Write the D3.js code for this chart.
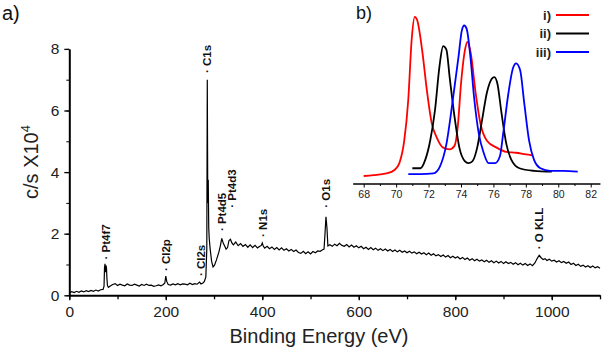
<!DOCTYPE html>
<html>
<head>
<meta charset="utf-8">
<script src="https://cdn.jsdelivr.net/npm/d3@7"></script>
<style>
  body { margin: 0; background: #fff; }
  text { font-family: "Liberation Sans", Arial, sans-serif; }
</style>
</head>
<body>
<script>
var w = 604;
var h = 355;

// survey spectrum: [binding energy (eV), counts (x10^4 c/s)]
var survey = [
  [0,0.08],[5,0.12],[10,0.09],[15,0.13],[20,0.10],[25,0.14],[30,0.11],[35,0.15],[40,0.12],[45,0.16],
  [50,0.13],[55,0.17],[60,0.14],[65,0.18],[70,0.19],[72,0.30],[73,0.90],[74,1.02],[75,0.75],[76,0.97],
  [77,0.90],[78,0.55],[79,0.32],[81,0.26],[85,0.30],[90,0.35],[95,0.38],[100,0.32],[105,0.36],[110,0.33],
  [115,0.31],[120,0.37],[125,0.33],[130,0.32],[135,0.36],[140,0.33],[145,0.30],[150,0.35],[155,0.32],[160,0.36],
  [165,0.32],[170,0.33],[175,0.29],[180,0.31],[185,0.34],[190,0.31],[195,0.35],[198,0.40],[200,0.62],[202,0.45],
  [205,0.35],[210,0.33],[215,0.37],[220,0.34],[225,0.38],[230,0.34],[235,0.37],[240,0.36],[245,0.34],[250,0.39],
  [255,0.35],[260,0.38],[265,0.36],[270,0.43],[273,0.37],[277,0.40],[280,0.45],[283,0.60],[285,1.50],[286,7.00],
  [287,3.00],[288,3.75],[289,2.20],[290,1.85],[292,1.50],[295,1.10],[298,0.92],[301,0.98],[305,1.15],[310,1.40],
  [313,1.60],[316,1.85],[319,1.70],[322,1.60],[325,1.50],[328,1.55],[331,1.78],[334,1.82],[337,1.70],[340,1.64],
  [345,1.73],[350,1.61],[355,1.68],[360,1.59],[365,1.65],[370,1.56],[375,1.64],[380,1.55],[385,1.62],[390,1.54],
  [395,1.59],[398,1.62],[400,1.70],[402,1.60],[405,1.53],[410,1.59],[415,1.51],[420,1.57],[425,1.49],[430,1.55],
  [435,1.47],[440,1.54],[445,1.46],[450,1.51],[455,1.44],[460,1.49],[465,1.42],[470,1.47],[475,1.39],[480,1.36],
  [485,1.43],[490,1.35],[495,1.41],[500,1.34],[505,1.42],[510,1.38],[515,1.44],[520,1.43],[525,1.48],[528,1.50],
  [530,2.00],[532,2.55],[534,2.20],[536,1.60],[540,1.64],[545,1.59],[550,1.66],[555,1.61],[560,1.69],[565,1.62],
  [570,1.59],[575,1.65],[580,1.57],[585,1.63],[590,1.56],[595,1.61],[600,1.54],[605,1.59],[610,1.51],[615,1.56],
  [620,1.49],[625,1.55],[630,1.48],[635,1.53],[640,1.46],[645,1.51],[650,1.45],[655,1.50],[660,1.44],[665,1.49],
  [670,1.42],[675,1.47],[680,1.41],[685,1.46],[690,1.40],[695,1.44],[700,1.38],[705,1.43],[710,1.37],[715,1.41],
  [720,1.35],[725,1.40],[730,1.34],[735,1.38],[740,1.32],[745,1.37],[750,1.30],[755,1.35],[760,1.28],[765,1.32],
  [770,1.26],[775,1.31],[780,1.24],[785,1.29],[790,1.22],[795,1.27],[800,1.21],[805,1.25],[810,1.18],[815,1.23],
  [820,1.16],[825,1.21],[830,1.14],[835,1.19],[840,1.12],[845,1.17],[850,1.11],[855,1.15],[860,1.09],[865,1.14],
  [870,1.07],[875,1.12],[880,1.06],[885,1.11],[890,1.05],[895,1.10],[900,1.03],[905,1.09],[910,1.03],[915,1.07],
  [920,1.01],[925,1.06],[930,0.99],[935,1.04],[940,0.98],[945,1.03],[950,0.97],[955,1.02],[960,0.96],[965,1.05],
  [970,1.20],[974,1.30],[978,1.22],[982,1.16],[986,1.19],[990,1.13],[995,1.17],[1000,1.11],[1005,1.14],[1010,1.08],
  [1015,1.12],[1020,1.06],[1025,1.10],[1030,1.04],[1035,1.08],[1040,1.00],[1045,1.04],[1050,0.97],[1055,1.01],[1060,0.94],
  [1065,0.98],[1070,0.92],[1075,0.96],[1080,0.90],[1085,0.95],[1090,0.89],[1095,0.93],[1100,0.88]
];

var peakNames = ["Pt4f7", "Cl2p", "Cl2s", "C1s", "Pt4d5", "Pt4d3", "N1s", "O1s", "O KLL"];
var peakEnergy = [76, 200, 272, 285, 316, 337, 402, 533, 974];
var peakLevel = [1.23, 0.85, 0.69, 7.28, 2.15, 2.91, 1.96, 2.91, 1.56];

var xTicks = [0, 200, 400, 600, 800, 1000];
var yTicks = [0, 2, 4, 6, 8];

// inset Pt4f spectra: [binding energy (eV), intensity (a.u.)]
var insetNames = ["i)", "ii)", "iii)"];
var insetColors = ["#ff0000", "#000000", "#0000ff"];
var spectrumI = [
  [68.0,3.5],[68.6,4],[69.4,5],[69.9,7],[70.2,11],[70.5,24],[70.75,48],[70.96,83],[71.15,96],[71.3,94],
  [71.6,77],[71.9,53],[72.2,34],[72.5,26],[72.9,20],[73.3,19],[73.6,21],[73.8,32],[74.0,57],[74.25,77],
  [74.4,81.5],[74.6,75],[74.9,52],[75.2,34],[75.6,24],[76.2,20],[76.8,17.5],[77.4,17],[78.0,16],[78.4,15.5]
];
var spectrumII = [
  [71.0,8],[71.5,8],[71.8,13],[72.1,24],[72.4,42],[72.67,67],[72.9,79],[73.1,77],[73.3,61],[73.6,38],
  [73.9,20],[74.25,12],[74.45,11],[74.7,12],[75.0,20],[75.3,36],[75.6,52],[75.9,60],[76.06,61],[76.25,57],
  [76.5,40],[76.8,22],[77.1,13],[77.6,8],[78.5,6.5],[79.6,6]
];
var spectrumIII = [
  [70.75,4.6],[71.5,4.6],[72.3,5],[72.7,9],[73.1,22],[73.5,48],[73.85,73],[74.05,88],[74.2,91],[74.35,89],
  [74.6,71],[74.8,50],[75.1,28],[75.4,17],[75.7,11],[76.1,11],[76.4,15],[76.6,28],[76.9,50],[77.2,66],
  [77.4,69],[77.65,65],[77.9,46],[78.2,24],[78.5,13],[78.9,8],[79.5,6.5],[80.3,6.5],[81.2,6]
];
var insetSeries = [spectrumI, spectrumII, spectrumIII];
var insetTicks = [68, 70, 72, 74, 76, 78, 80, 82];

var svg = d3.select("body")
  .append("svg")
  .attr("width", w)
  .attr("height", h);

// ---- main panel a)
var xScale = d3.scaleLinear().domain([0, 1100]).range([69.3, 600]);
var yScale = d3.scaleLinear().domain([0, 8]).range([295.3, 48.9]);

var xAxis = svg.append("g")
  .attr("transform", "translate(0," + yScale(0) + ")");
xAxis.call(d3.axisBottom(xScale).tickValues(d3.range(0, 1101, 100)).tickSize(4).tickSizeOuter(0).tickFormat(""));
xAxis.call(g => g.selectAll(".tick line").attr("stroke-width", 1.3));
var xLab = svg.append("g")
  .attr("transform", "translate(0," + yScale(0) + ")")
  .call(d3.axisBottom(xScale).tickValues(xTicks).tickSize(5).tickPadding(6).tickSizeOuter(0).tickFormat(d3.format("d")));
xLab.select(".domain").remove();
xLab.selectAll(".tick line").attr("stroke-width", 1.3);
xLab.selectAll("text").attr("font-size", 15.5).attr("fill", "#222").attr("font-family", "Liberation Sans, Arial");
xAxis.select(".domain").attr("stroke-width", 2);

var yAxis = svg.append("g")
  .attr("transform", "translate(" + xScale(0) + ",0)");
yAxis.call(d3.axisLeft(yScale).tickValues(d3.range(0, 9, 1)).tickSize(3).tickSizeOuter(0).tickFormat(""));
yAxis.select(".domain").attr("stroke-width", 2);
var yLab = svg.append("g")
  .attr("transform", "translate(" + xScale(0) + ",0)")
  .call(d3.axisLeft(yScale).tickValues(yTicks).tickSize(5).tickPadding(5).tickSizeOuter(0));
yLab.select(".domain").remove();
yLab.selectAll(".tick line").attr("stroke-width", 1.3);
yLab.selectAll("text").attr("font-size", 15.5).attr("fill", "#222").attr("font-family", "Liberation Sans, Arial");

var line = d3.line()
  .x(d => xScale(d[0]))
  .y(d => yScale(d[1]));

svg.append("path")
  .datum(survey)
  .attr("d", line)
  .attr("fill", "none")
  .attr("stroke", "#000")
  .attr("stroke-width", 1.2);

svg.selectAll("text.peak")
  .data(peakNames)
  .enter()
  .append("text")
  .attr("class", "peak")
  .attr("transform", (d, i) => "translate(" + xScale(peakEnergy[i]) + "," + (yScale(peakLevel[i]) + 2) + ") rotate(-90)")
  .attr("dy", "0.35em")
  .attr("font-size", 11.5)
  .attr("font-weight", "bold")
  .attr("fill", "#111")
  .text(d => "\u00b7 " + d);

svg.append("text")
  .attr("x", 319)
  .attr("y", 343)
  .attr("text-anchor", "middle")
  .attr("font-size", 20)
  .attr("fill", "#222")
  .text("Binding Energy (eV)");

var yTitle = svg.append("text")
  .attr("transform", "translate(38,162) rotate(-90)")
  .attr("text-anchor", "middle")
  .attr("font-size", 20)
  .attr("fill", "#222");
yTitle.append("tspan").text("c/s X10");
yTitle.append("tspan").attr("dy", -8).attr("font-size", 13).text("4");

svg.append("text")
  .attr("x", 2)
  .attr("y", 20)
  .attr("font-size", 20)
  .attr("fill", "#111")
  .text("a)");

// ---- inset panel b)
var ix = d3.scaleLinear().domain([68, 82]).range([363.7, 590.7]);
var iy = d3.scaleLinear().domain([0, 100]).range([182, 10]);

var ixAxis = svg.append("g")
  .attr("transform", "translate(0,184)");
ixAxis.call(d3.axisBottom(ix).tickValues(d3.range(69, 82, 2)).tickSize(2).tickSizeOuter(0).tickFormat(""));
ixAxis.select(".domain").attr("d", "M" + ix(67.35) + ",0H" + ix(82.6)).attr("stroke-width", 1.3);
var ixLab = svg.append("g")
  .attr("transform", "translate(0,184)")
  .call(d3.axisBottom(ix).tickValues(insetTicks).tickSize(3.5).tickPadding(3).tickSizeOuter(0));
ixLab.select(".domain").remove();
ixLab.selectAll("text").attr("font-size", 10.5).attr("fill", "#222");

var iline = d3.line()
  .curve(d3.curveMonotoneX)
  .x(d => ix(d[0]))
  .y(d => iy(d[1]));

svg.selectAll("path.inset")
  .data(insetSeries)
  .enter()
  .append("path")
  .attr("class", "inset")
  .attr("d", iline)
  .attr("fill", "none")
  .attr("stroke", (d, i) => insetColors[i])
  .attr("stroke-width", 1.8);

var legend = svg.selectAll("g.legend")
  .data(insetNames)
  .enter()
  .append("g")
  .attr("class", "legend")
  .attr("transform", (d, i) => "translate(0," + (15 + i * 18.5) + ")");
legend.append("text")
  .attr("x", 551)
  .attr("dy", "0.35em")
  .attr("text-anchor", "end")
  .attr("font-size", 13)
  .attr("font-weight", "bold")
  .attr("fill", "#222")
  .text(d => d);
legend.append("line")
  .attr("x1", 556)
  .attr("x2", 589)
  .attr("stroke", (d, i) => insetColors[i])
  .attr("stroke-width", 2);

svg.append("text")
  .attr("x", 356)
  .attr("y", 19)
  .attr("font-size", 18)
  .attr("fill", "#111")
  .text("b)");
</script>
</body>
</html>
